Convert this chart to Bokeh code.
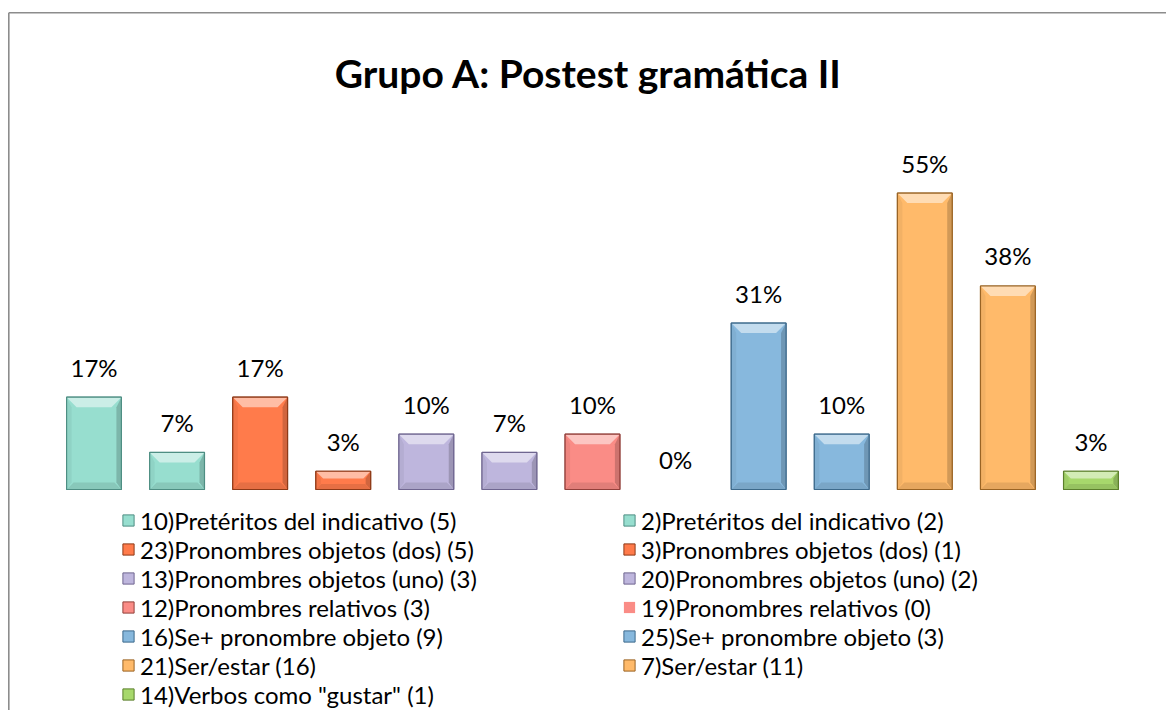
from bokeh.plotting import figure
from bokeh.models import ColumnDataSource, Legend, LegendItem, Range1d
from bokeh.core.properties import value
from bokeh.embed import file_html
from bokeh.resources import INLINE

title_text = "Grupo A: Postest gramática II"
categories = [
    "10)Pretéritos del indicativo (5)",
    "2)Pretéritos del indicativo (2)",
    "23)Pronombres objetos (dos) (5)",
    "3)Pronombres objetos (dos) (1)",
    "13)Pronombres objetos (uno) (3)",
    "20)Pronombres objetos (uno) (2)",
    "12)Pronombres relativos (3)",
    "19)Pronombres relativos (0)",
    "16)Se+ pronombre objeto (9)",
    "25)Se+ pronombre objeto (3)",
    "21)Ser/estar (16)",
    "7)Ser/estar (11)",
    '14)Verbos como "gustar" (1)',
]
percent = [17.2, 6.9, 17.2, 3.4, 10.3, 6.9, 10.3, 0.0, 31.0, 10.3, 55.2, 37.9, 3.4]
pct_labels = ["17%", "7%", "17%", "3%", "10%", "7%", "10%", "0%", "31%", "10%", "55%", "38%", "3%"]
fill_colors = ["#97DECF", "#97DECF", "#FF7B4B", "#FF7B4B", "#BEB6DD", "#BEB6DD",
               "#FA8C86", "#FA8C86", "#87B8DD", "#87B8DD", "#FFBA6A", "#FFBA6A", "#A7D86C"]
edge_colors = ["#4E8E83", "#4E8E83", "#8E3A18", "#8E3A18", "#6F6690", "#6F6690",
               "#93403B", "#93403B", "#3D6A8C", "#3D6A8C", "#9A6424", "#9A6424", "#5B7F2C"]

# ---- layout (pixels) ----
W, H = 1166, 710
PX_X = 83.08          # pixels per category step
X0 = 93.5             # canvas x of first bar centre
PX_Y = 5.37           # pixels per percent
BASE = 489.0          # canvas y (from top) of baseline
x_start = -X0 / PX_X
x_end = x_start + W / PX_X
y_end = BASE / PX_Y
y_start = -(H - BASE) / PX_Y
BAR_W = 0.66


def mix(c, other, t):
    c = c.lstrip("#"); o = other.lstrip("#")
    a = [int(c[i:i + 2], 16) for i in (0, 2, 4)]
    b = [int(o[i:i + 2], 16) for i in (0, 2, 4)]
    return "#%02x%02x%02x" % tuple(round(a[k] * (1 - t) + b[k] * t) for k in range(3))


def sx(px):  # canvas px -> data x
    return x_start + px / PX_X


def sy(py):  # canvas px from top -> data y
    return y_end - py / PX_Y


xs = list(range(len(percent)))
line_alpha = [1.0 if v > 0 else 0.0 for v in percent]
src = ColumnDataSource(dict(x=xs, top=percent, fill=fill_colors, edge=edge_colors,
                            lab=pct_labels, la=line_alpha))

p = figure(width=W, height=H, x_range=Range1d(x_start, x_end), y_range=Range1d(y_start, y_end),
           x_axis_location=None, y_axis_location=None, min_border=0,
           toolbar_location=None, output_backend="svg")
p.outline_line_color = None
p.background_fill_color = "white"
p.border_fill_color = "white"
p.grid.visible = False

# chart border (top and left edges visible)
bx = sx(8.3)
by = sy(12.3)
p.segment(x0=[bx, bx], y0=[by, y_start], x1=[x_end, bx], y1=[by, by],
          line_color="#8C8C8C", line_width=1.6)

# base bars
base = p.vbar(x="x", top="top", bottom=0, width=BAR_W, source=src,
              fill_color="fill", line_color="edge", line_width=1, line_alpha="la")

# bevel facets
top_x, top_y, top_c = [], [], []
bot_x, bot_y, bot_c = [], [], []
sr_x, sr_y, sr_c = [], [], []
sl_x, sl_y, sl_c = [], [], []
for i, v in enumerate(percent):
    if v <= 0:
        continue
    hpx = v * PX_Y
    l, r = i - BAR_W / 2, i + BAR_W / 2
    T = v
    dt = min(10.0, hpx * 0.4)
    db = min(7.0, hpx * 0.3)
    ds = 5.0
    tdx, tdy = dt / PX_X, dt / PX_Y
    bdx, bdy = db / PX_X, db / PX_Y
    sdx = ds / PX_X
    top_x.append([l, r, r - tdx, l + tdx]); top_y.append([T, T, T - tdy, T - tdy])
    top_c.append(mix(fill_colors[i], "#FFFFFF", 0.5))
    bot_x.append([l, r, r - bdx, l + bdx]); bot_y.append([0, 0, bdy, bdy])
    bot_c.append(mix(fill_colors[i], "#000000", 0.10))
    sr_x.append([r, r, r - sdx, r - sdx]); sr_y.append([T, 0, bdy, T - tdy])
    sr_c.append(mix(fill_colors[i], "#000000", 0.18))
    sl_x.append([l, l, l + sdx, l + sdx]); sl_y.append([T, 0, bdy, T - tdy])
    sl_c.append(mix(fill_colors[i], "#000000", 0.05))

p.patches(xs=sl_x, ys=sl_y, fill_color=sl_c, line_color=None)
p.patches(xs=sr_x, ys=sr_y, fill_color=sr_c, line_color=None)
p.patches(xs=bot_x, ys=bot_y, fill_color=bot_c, line_color=None)
p.patches(xs=top_x, ys=top_y, fill_color=top_c, line_color=None)
p.vbar(x="x", top="top", bottom=0, width=BAR_W, source=src,
       fill_alpha=0, line_color="edge", line_width=1.2, line_alpha="la")

# data labels
p.text(x="x", y="top", text="lab", source=src, text_align="center",
       text_baseline="alphabetic", y_offset=-30, text_font=value("Lato"),
       text_font_size="24px", text_color="#000000")

# title
p.text(x=[sx(588)], y=[sy(72)], text=[title_text],
       text_align="center", text_baseline="alphabetic", text_font=value("Lato"),
       text_font_style="bold", text_font_size="39px", text_color="#000000")

# legends: two columns, row-major order as in the original; one legend per row
ITEM_H = 34
for i, lab in enumerate(categories):
    col, row = i % 2, i // 2
    gx = 121 if col == 0 else 622
    yc = 520 + 29 * row
    lg = Legend(items=[LegendItem(label=lab, renderers=[base], index=i)],
                location=(gx, H - (yc + ITEM_H / 2)), orientation="vertical",
                glyph_width=14, glyph_height=14, label_height=ITEM_H, spacing=0,
                label_standoff=5, padding=0, margin=0,
                border_line_color=None, background_fill_alpha=0,
                label_text_font="Lato", label_text_font_size="24px",
                label_text_color="#000000")
    p.add_layout(lg)

open("out.html", "w").write(file_html(p, INLINE))
